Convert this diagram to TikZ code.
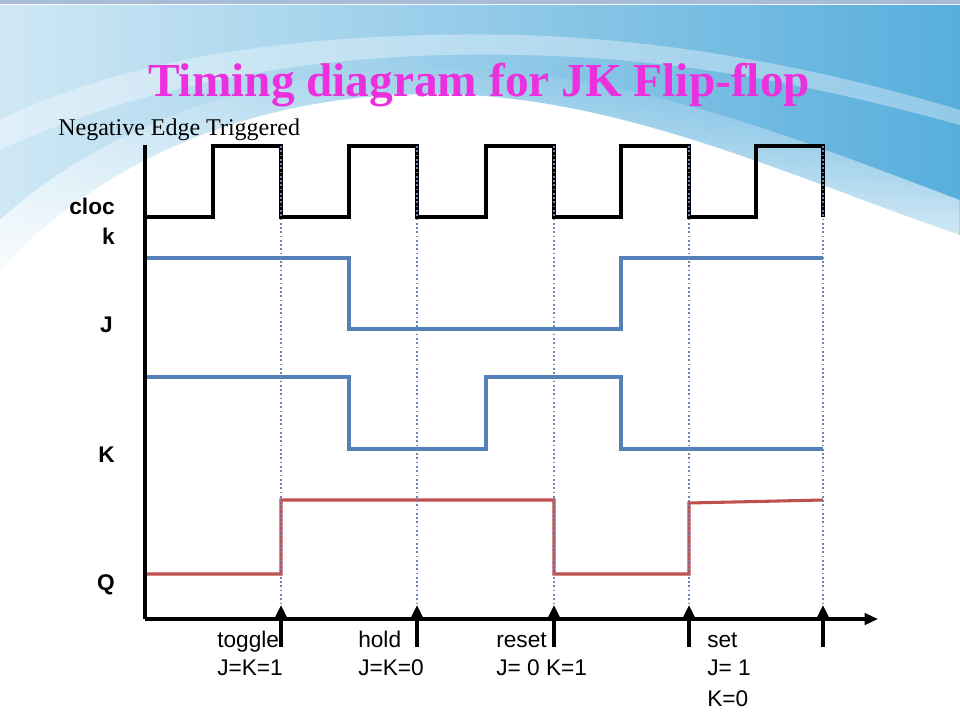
\documentclass[tikz,border=0pt]{standalone}
\usepackage{fontspec}
\setmainfont{Liberation Serif}
\setsansfont{Liberation Sans}
\usetikzlibrary{arrows.meta,fadings}

\definecolor{bglight}{HTML}{CFE8F5}
\definecolor{bgdark}{HTML}{58AEDC}
\definecolor{topline}{HTML}{A8BCD8}
\definecolor{sigblue}{HTML}{5580B8}
\definecolor{qred}{HTML}{C0504D}
\definecolor{dotblue}{HTML}{6A84B8}
\definecolor{titlepink}{HTML}{EC30DE}

\tikzset{
  clk/.style={line width=2.8pt, black},
  sig/.style={line width=2.3pt, sigblue},
  qsig/.style={line width=2.3pt, qred},
  guide/.style={line width=1.6pt, dotblue, dash pattern=on 1.3pt off 1.9pt},
  axisline/.style={line width=2.8pt, black},
  trig/.style={line width=2.6pt, black, -{Triangle[length=9pt,width=8pt]}},
  signame/.style={font=\sffamily\bfseries\fontsize{17}{20}\selectfont, anchor=base east, inner sep=0pt},
  notelbl/.style={font=\sffamily\fontsize{17}{21}\selectfont, anchor=base west, inner sep=0pt}
}

\begin{document}
\begin{tikzpicture}[x=0.75pt,y=-0.75pt]
\useasboundingbox (0,0) rectangle (960,720);

% Background
\fill[white] (0,0) rectangle (960,720);
\shade[left color=bglight, right color=bgdark]
  (0,5) -- (960,5) -- (960,235) .. controls (800,180) and (640,105) .. (470,95)
  .. controls (280,85) and (110,150) .. (0,270) -- cycle;
% soft lower rim
\fill[white, path fading=north]
  (0,300) .. controls (110,170) and (280,110) .. (470,120) .. controls (640,130) and (800,200) .. (960,260)
  -- (960,200) .. controls (800,140) and (640,75) .. (470,70) .. controls (280,60) and (110,120) .. (0,220) -- cycle;
% glare band
\fill[white, opacity=0.35]
  (0,120) .. controls (120,60) and (300,30) .. (520,35) .. controls (700,40) and (860,80) .. (960,110)
  -- (960,125) .. controls (850,95) and (700,58) .. (520,55) .. controls (320,50) and (140,85) .. (0,150) -- cycle;
\draw[line width=2.5pt, topline] (0,2) -- (960,2);

% Title
\node[anchor=base west, inner sep=0pt, text=titlepink,
  font=\bfseries\fontsize{35.5}{40}\selectfont] (title) at (148,97)
{Timing diagram for JK Flip-flop};

\node[anchor=base west, inner sep=0pt, font=\fontsize{18}{20}\selectfont] (trigger) at (58,136)
{Negative Edge Triggered};

% Signal names
\node[signame] (clk1) at (115,215) {cloc};
\node[signame] (clk2) at (115,245) {k};
\node[signame] (jname) at (113,332) {J};
\node[signame] (kname) at (115,462) {K};
\node[signame] (qname) at (115,590) {Q};

% Falling clock edges
\foreach \x [count=\i] in {281,417,554,689,823} {
  \coordinate (top\i) at (\x,146);
  \coordinate (tip\i) at (\x,605);
  \coordinate (foot\i) at (\x,647);
}

% Clock
\draw[clk] (145,217) -- (213,217) -- (213,146) -- (281,146) -- (281,217)
  -- (349,217) -- (349,146) -- (417,146) -- (417,217)
  -- (486,217) -- (486,146) -- (554,146) -- (554,217)
  -- (621,217) -- (621,146) -- (689,146) -- (689,217)
  -- (756,217) -- (756,146) -- (823,146) -- (823,217);

% J
\draw[sig] (145,258) -- (349,258) -- (349,329) -- (621,329) -- (621,258) -- (823,258);

% K
\draw[sig] (145,377) -- (349,377) -- (349,449) -- (486,449) -- (486,377)
  -- (621,377) -- (621,449) -- (823,449);

% Q
\draw[qsig] (145,574) -- (281,574) -- (281,500) -- (554,500) -- (554,574)
  -- (689,574) -- (689,503) -- (823,500);

% Guides and trigger arrows
\foreach \i in {1,...,5} {
  \draw[guide] (top\i) -- (tip\i);
  \draw[trig] (foot\i) -- (tip\i);
}

% Axes
\coordinate (origin) at (145,619);
\coordinate (yend) at (145,145);
\coordinate (xend) at (878,619);
\draw[axisline] (yend) -- (origin);
\draw[axisline, -{Triangle[length=10pt,width=8.5pt]}] (origin) -- (xend);

% Notes
\node[notelbl] (toggle) at (217,647) {toggle};
\node[notelbl] (toggleb) at (217,675) {J=K=1};
\node[notelbl] (hold) at (358,647) {hold};
\node[notelbl] (holdb) at (358,675) {J=K=0};
\node[notelbl] (reset) at (496,647) {reset};
\node[notelbl] (resetb) at (496,675) {J= 0 K=1};
\node[notelbl] (set) at (707,647) {set};
\node[notelbl] (setb) at (707,675) {J= 1};
\node[notelbl] (setc) at (707,706) {K=0};
\end{tikzpicture}
\end{document}
